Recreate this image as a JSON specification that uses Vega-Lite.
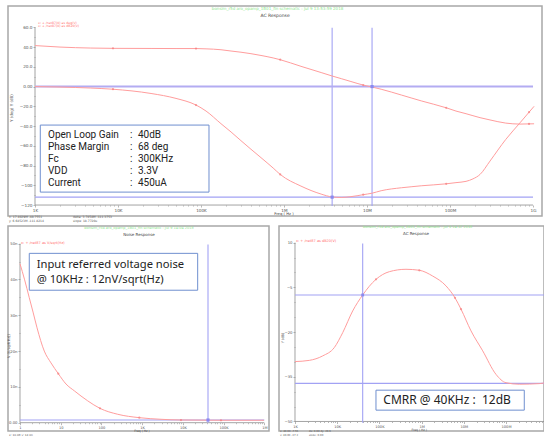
{
  "$schema": "https://vega.github.io/schema/vega-lite/v6.json",
  "background": "white",
  "padding": {"left": 6, "top": 5, "right": 0, "bottom": 0},
  "bounds": "flush",
  "spacing": 10,
  "config": {
    "view": {"stroke": "#a8a8a8", "strokeWidth": 1.5},
    "axis": {"domain": false, "grid": false, "labelFont": "DejaVu Sans", "labelFontSize": 4.2, "labelColor": "#555", "tickColor": "#999", "tickWidth": 0.7, "labelPadding": 1, "labelOverlap": false, "labelFlush": false, "labelBound": false}
  },
  "datasets": {
    "ac": [
      {"series":"gain","f":1000,"v":41.5},{"series":"gain","f":2000,"v":40.0},{"series":"gain","f":4700,"v":39.0},{"series":"gain","f":8700,"v":38.7},{"series":"gain","f":25000,"v":38.6},{"series":"gain","f":50000,"v":38.5},{"series":"gain","f":87000,"v":38.5},{"series":"gain","f":115000,"v":38.2},{"series":"gain","f":174000,"v":37.3},{"series":"gain","f":230000,"v":36.0},{"series":"gain","f":303000,"v":34.8},{"series":"gain","f":400000,"v":33.3},{"series":"gain","f":528000,"v":31.5},{"series":"gain","f":740000,"v":29.0},{"series":"gain","f":900000,"v":27.2},{"series":"gain","f":1600000,"v":20.5},{"series":"gain","f":2800000,"v":14.2},{"series":"gain","f":3800000,"v":10.7},{"series":"gain","f":4900000,"v":8.0},{"series":"gain","f":6400000,"v":5.1},{"series":"gain","f":9000000,"v":1.5},{"series":"gain","f":11500000,"v":-0.5},{"series":"gain","f":14800000,"v":-2.7},{"series":"gain","f":26000000,"v":-8.6},{"series":"gain","f":34000000,"v":-11.5},{"series":"gain","f":45000000,"v":-14.5},{"series":"gain","f":90000000,"v":-21.5},{"series":"gain","f":118000000,"v":-24.8},{"series":"gain","f":156000000,"v":-27.5},{"series":"gain","f":189000000,"v":-29.5},{"series":"gain","f":230000000,"v":-31.5},{"series":"gain","f":303000000,"v":-33.8},{"series":"gain","f":470000000,"v":-37.0},{"series":"gain","f":697000000,"v":-38.0},{"series":"gain","f":895000000,"v":-37.8},{"series":"gain","f":1030000000,"v":-37.7},
      {"series":"phase","f":1000,"v":0},{"series":"phase","f":2000,"v":-0.5},{"series":"phase","f":4700,"v":-1.5},{"series":"phase","f":8700,"v":-2.7},{"series":"phase","f":25000,"v":-7},{"series":"phase","f":50000,"v":-12},{"series":"phase","f":87000,"v":-18.7},{"series":"phase","f":115000,"v":-24.8},{"series":"phase","f":174000,"v":-37.6},{"series":"phase","f":230000,"v":-46},{"series":"phase","f":303000,"v":-54.8},{"series":"phase","f":400000,"v":-63.5},{"series":"phase","f":528000,"v":-72},{"series":"phase","f":740000,"v":-82.5},{"series":"phase","f":900000,"v":-89},{"series":"phase","f":1600000,"v":-100.8},{"series":"phase","f":2800000,"v":-108.9},{"series":"phase","f":3800000,"v":-111.8},{"series":"phase","f":4900000,"v":-112.3},{"series":"phase","f":6400000,"v":-111.5},{"series":"phase","f":9000000,"v":-109.5},{"series":"phase","f":11500000,"v":-108},{"series":"phase","f":14800000,"v":-105.5},{"series":"phase","f":26000000,"v":-102.5},{"series":"phase","f":34000000,"v":-101.5},{"series":"phase","f":45000000,"v":-100.5},{"series":"phase","f":90000000,"v":-98.5},{"series":"phase","f":118000000,"v":-97.3},{"series":"phase","f":156000000,"v":-96},{"series":"phase","f":189000000,"v":-93.5},{"series":"phase","f":230000000,"v":-89},{"series":"phase","f":303000000,"v":-75.5},{"series":"phase","f":470000000,"v":-53.5},{"series":"phase","f":697000000,"v":-36.7},{"series":"phase","f":895000000,"v":-26},{"series":"phase","f":1030000000,"v":-20}
    ],
    "ac_marks": [
      {"f":8700,"v":38.7},{"f":87000,"v":38.5},{"f":900000,"v":27.2},{"f":9000000,"v":1.5},{"f":90000000,"v":-21.5},{"f":895000000,"v":-37.8},
      {"f":8700,"v":-2.7},{"f":87000,"v":-18.7},{"f":900000,"v":-89},{"f":9000000,"v":-109.5},{"f":90000000,"v":-98.5},{"f":895000000,"v":-26}
    ],
    "ac_axis": [{"f":1000,"f2":1000000000,"v":-120,"v2":-120},{"f":1000,"f2":1000,"v":-120,"v2":60}],
    "ac_cursor": [{"f":3800000,"f2":3800000,"v":59.5,"v2":-121},{"f":11500000,"f2":11500000,"v":59.5,"v2":-121},{"f":1000,"f2":1000000000,"v":-112,"v2":-112}],
    "ac_zero": [{"f":1000,"f2":1000000000,"v":0,"v2":0}],
    "ac_sq": [{"f":11500000,"v":0},{"f":3800000,"v":-112}],
    "ac_box": [{"f":1158,"f2":124800,"v":-39,"v2":-106.9}],
    "ac_text": [
      {"f":1434,"v":-49.2,"label":"Open Loop Gain"},{"f":13950,"v":-49.2,"label":":"},{"f":17400,"v":-49.2,"label":"40dB"},
      {"f":1434,"v":-61,"label":"Phase Margin"},{"f":13950,"v":-61,"label":":"},{"f":17400,"v":-61,"label":"68 deg"},
      {"f":1434,"v":-73.1,"label":"Fc"},{"f":13950,"v":-73.1,"label":":"},{"f":17400,"v":-73.1,"label":"300KHz"},
      {"f":1434,"v":-85.6,"label":"VDD"},{"f":13950,"v":-85.6,"label":":"},{"f":17400,"v":-85.6,"label":"3.3V"},
      {"f":1434,"v":-97.5,"label":"Current"},{"f":13950,"v":-97.5,"label":":"},{"f":17400,"v":-97.5,"label":"450uA"}
    ],
    "ac_notes": [
      {"role":"header","f":836000,"v":78.1,"label":"bonsim_r5d aro_opamp_1B01_fin schematic : Jul 9 13:53:59 2018"},
      {"role":"title","f":780000,"v":71.4,"label":"AC Response"},
      {"role":"legend","f":1087,"v":64.9,"label":"x: + /net87(0) as deg(V)"},
      {"role":"legend","f":1087,"v":61.1,"label":"x: + /net87(0) as dB20(V)"},
      {"role":"xtitle","f":1000000,"v":-129.2,"label":"Freq ( Hz )"},
      {"role":"ytitle","f":529,"v":-21.8,"label":"Y (deg)  Y (dB)"},
      {"role":"status","f":486,"v":-132.0,"label":"x: 17.4029M  -48.7551"},
      {"role":"status","f":486,"v":-135.6,"label":"y: 6.64523M  -111.8214"},
      {"role":"status","f":2870,"v":-132.0,"label":"delta: 3.7458M  -111.3753"},
      {"role":"status","f":2870,"v":-135.6,"label":"slope: 18.7720u"}
    ],
    "noise": [
      {"f":1,"v":44.4},{"f":1.3,"v":39.9},{"f":1.69,"v":34.9},{"f":2.09,"v":30.9},{"f":2.62,"v":26.5},{"f":3.95,"v":20.0},{"f":5.77,"v":16.7},{"f":8.72,"v":13.7},{"f":13.5,"v":10.8},{"f":21.6,"v":8.9},{"f":46,"v":6.1},{"f":92.2,"v":4.0},{"f":251,"v":2.35},{"f":851,"v":1.4},{"f":2902,"v":0.95},{"f":8990,"v":0.75},{"f":86300,"v":0.68},{"f":982000,"v":0.68}
    ],
    "noise_marks": [{"f":8.72,"v":13.7},{"f":92.2,"v":4.0},{"f":851,"v":1.4},{"f":8990,"v":0.75},{"f":86300,"v":0.68}],
    "noise_axis": [{"f":1,"f2":1000000,"v":0,"v2":0},{"f":1,"f2":1,"v":0,"v2":50}],
    "noise_cursor": [{"f":41400,"f2":41400,"v":49.8,"v2":0},{"f":1,"f2":1000000,"v":0.75,"v2":0.75}],
    "noise_sq": [{"f":41400,"v":0.75}],
    "noise_box": [{"f":1.69,"f2":23100,"v":47.3,"v2":37.0}],
    "noise_text": [{"f":2.57,"v":44.0,"label":"Input referred voltage noise"},{"f":2.57,"v":39.8,"label":"@ 10KHz : 12nV/sqrt(Hz)"}],
    "noise_notes": [
      {"role":"header","f":836,"v":54.3,"label":"bonsim_r5d aro_opamp_1B01_fin schematic : Jul 9 14:04 2018"},
      {"role":"title","f":836,"v":52.4,"label":"Noise Response"},
      {"role":"legend","f":1.06,"v":50.2,"label":"x: + /net87 as V/sqrt(Hz)"},
      {"role":"xtitle","f":991,"v":-2.3,"label":"Freq ( Hz )"},
      {"role":"ytitle","f":0.537,"v":21.4,"label":"V (V/sqrt(Hz))"},
      {"role":"status","f":0.537,"v":-3.35,"label":"x: 10.0K  y: 12.0n"}
    ],
    "cmrr": [
      {"f":1000,"v":-29.9},{"f":2180,"v":-29.5},{"f":4530,"v":-28.0},{"f":8540,"v":-25.2},{"f":13500,"v":-20.2},{"f":23300,"v":-12.9},{"f":40200,"v":-7.55},{"f":83000,"v":-2.3},{"f":172000,"v":0.27},{"f":427000,"v":1.07},{"f":882000,"v":0.74},{"f":1832000,"v":-1.2},{"f":3787000,"v":-4.5},{"f":6184000,"v":-8.5},{"f":8583000,"v":-12.3},{"f":14820000,"v":-19.6},{"f":28060000,"v":-26.3},{"f":57970000,"v":-34.2},{"f":100000000,"v":-37.0},{"f":207000000,"v":-37.5},{"f":615000000,"v":-37.3},{"f":795000000,"v":-37.1}
    ],
    "cmrr_marks": [{"f":40200,"v":-7.55},{"f":83000,"v":-2.3},{"f":882000,"v":0.74},{"f":6184000,"v":-8.5},{"f":8583000,"v":-12.3}],
    "cmrr_axis": [{"f":1000,"f2":795000000,"v":-50,"v2":-50},{"f":1000,"f2":1000,"v":-50,"v2":10}],
    "cmrr_cursor": [{"f":40200,"f2":40200,"v":9.7,"v2":-50.4},{"f":1000,"f2":795000000,"v":-7.55,"v2":-7.55},{"f":1000,"f2":795000000,"v":-37.2,"v2":-37.2}],
    "cmrr_sq": [{"f":40200,"v":-7.55}],
    "cmrr_box": [{"f":83000,"f2":271000000,"v":-39.5,"v2":-46.2}],
    "cmrr_text": [{"f":123700,"v":-42.8,"label":"CMRR @ 40KHz :\u00a0\u00a012dB"}],
    "cmrr_notes": [
      {"role":"header","f":808000,"v":15.3,"label":"bonsim_r5d aro_opamp_1B01_fin schematic : Jul 9 14:12 2018"},
      {"role":"title","f":737000,"v":13.0,"label":"AC Response"},
      {"role":"legend","f":1056,"v":10.6,"label":"x: + /net87 as dB20(V)"},
      {"role":"xtitle","f":882000,"v":-52.8,"label":"Freq ( Hz )"},
      {"role":"ytitle","f":521,"v":-22,"label":"Y (dB)"},
      {"role":"status","f":441,"v":-53.4,"label":"x: 40.0K  -7.55"},
      {"role":"status","f":441,"v":-54.6,"label":"y: 40.0K  -37.2"},
      {"role":"status","f":2146,"v":-53.4,"label":"dx: 0.00  dy: 29.6"},
      {"role":"status","f":2146,"v":-54.6,"label":"slope: 0.00"}
    ]
  },
  "vconcat": [
    {
      "width": 534,
      "height": 210,
      "encoding": {
        "x": {"field": "f", "type": "quantitative", "scale": {"type": "log", "domain": [472.8, 1283000000], "nice": false},
          "axis": {"title": null, "orient": "bottom", "offset": -11,
            "values": [1000,2000,3000,4000,5000,6000,7000,8000,9000,10000,20000,30000,40000,50000,60000,70000,80000,90000,100000,200000,300000,400000,500000,600000,700000,800000,900000,1000000,2000000,3000000,4000000,5000000,6000000,7000000,8000000,9000000,10000000,20000000,30000000,40000000,50000000,60000000,70000000,80000000,90000000,100000000,200000000,300000000,400000000,500000000,600000000,700000000,800000000,900000000,1000000000],
            "labelExpr": "datum.value==1e3?'1K':datum.value==1e4?'10K':datum.value==1e5?'100K':datum.value==1e6?'1M':datum.value==1e7?'10M':datum.value==1e8?'100M':datum.value==1e9?'1G':''",
            "tickSize": {"condition": {"test": "indexof([1e3,1e4,1e5,1e6,1e7,1e8,1e9], datum.value) >= 0", "value": 2}, "value": 1}}},
        "y": {"field": "v", "type": "quantitative", "scale": {"domain": [-131.1, 81.6], "nice": false, "zero": false},
          "axis": {"title": null, "orient": "left", "offset": -27,
            "values": [-120,-110,-100,-90,-80,-70,-60,-50,-40,-30,-20,-10,0,10,20,30,40,50,60],
            "labelExpr": "datum.value%20!=0?'':datum.value==0?'0.00':abs(datum.value)>=100?format(datum.value,'d'):format(datum.value,'.1f')",
            "tickSize": {"condition": {"test": "datum.value%20==0", "value": 2}, "value": 1}}}
      },
      "layer": [
        {"data": {"name": "ac_axis"}, "mark": {"type": "rule", "color": "#8c8c8c", "strokeWidth": 0.8}, "encoding": {"x2": {"field": "f2"}, "y2": {"field": "v2"}}},
        {"data": {"name": "ac_cursor"}, "mark": {"type": "rule", "color": "#a2a2f4", "strokeWidth": 1.1}, "encoding": {"x2": {"field": "f2"}, "y2": {"field": "v2"}}},
        {"data": {"name": "ac_zero"}, "mark": {"type": "rule", "color": "#b3acf2", "strokeWidth": 2}, "encoding": {"x2": {"field": "f2"}, "y2": {"field": "v2"}}},
        {"data": {"name": "ac"}, "mark": {"type": "line", "color": "#ff9d9d", "strokeWidth": 1, "interpolate": "monotone"}, "encoding": {"detail": {"field": "series"}}},
        {"data": {"name": "ac_marks"}, "mark": {"type": "point", "filled": true, "size": 5, "color": "#f47a7a"}, "encoding": {}},
        {"data": {"name": "ac_sq"}, "mark": {"type": "square", "size": 10, "color": "#8a8af0", "opacity": 1}, "encoding": {}},
        {"data": {"name": "ac_box"}, "mark": {"type": "rect", "fill": "white", "stroke": "#6f8fcf", "strokeWidth": 1}, "encoding": {"x2": {"field": "f2"}, "y2": {"field": "v2"}}},
        {"data": {"name": "ac_text"}, "mark": {"type": "text", "align": "left", "baseline": "middle", "fontSize": 10, "font": "Roboto", "color": "#222"}, "encoding": {"text": {"field": "label"}}},
        {"data": {"name": "ac_notes"}, "transform": [{"filter": "datum.role=='header'"}], "mark": {"type": "text", "align": "center", "baseline": "middle", "fontSize": 4, "font": "DejaVu Sans", "color": "#8ee68e"}, "encoding": {"text": {"field": "label"}}},
        {"data": {"name": "ac_notes"}, "transform": [{"filter": "datum.role=='title'"}], "mark": {"type": "text", "align": "center", "baseline": "middle", "fontSize": 4.5, "font": "DejaVu Sans", "color": "#444"}, "encoding": {"text": {"field": "label"}}},
        {"data": {"name": "ac_notes"}, "transform": [{"filter": "datum.role=='xtitle'"}], "mark": {"type": "text", "align": "center", "baseline": "middle", "fontSize": 3.8, "font": "DejaVu Sans", "color": "#444"}, "encoding": {"text": {"field": "label"}}},
        {"data": {"name": "ac_notes"}, "transform": [{"filter": "datum.role=='legend'"}], "mark": {"type": "text", "align": "left", "baseline": "middle", "fontSize": 3.2, "font": "DejaVu Sans", "color": "#ff6f6f"}, "encoding": {"text": {"field": "label"}}},
        {"data": {"name": "ac_notes"}, "transform": [{"filter": "datum.role=='status'"}], "mark": {"type": "text", "align": "left", "baseline": "middle", "fontSize": 3, "font": "DejaVu Sans", "color": "#555"}, "encoding": {"text": {"field": "label"}}},
        {"data": {"name": "ac_notes"}, "transform": [{"filter": "datum.role=='ytitle'"}], "mark": {"type": "text", "align": "center", "baseline": "middle", "angle": 270, "fontSize": 4, "font": "DejaVu Sans", "color": "#555"}, "encoding": {"text": {"field": "label"}}}
      ]
    },
    {
      "hconcat": [
        {
          "width": 261,
          "height": 205,
          "encoding": {
            "x": {"field": "f", "type": "quantitative", "scale": {"type": "log", "domain": [0.5074, 1303000], "nice": false},
              "axis": {"title": null, "orient": "bottom", "offset": -8.3,
                "values": [1,2,3,4,5,6,7,8,9,10,20,30,40,50,60,70,80,90,100,200,300,400,500,600,700,800,900,1000,2000,3000,4000,5000,6000,7000,8000,9000,10000,20000,30000,40000,50000,60000,70000,80000,90000,100000,200000,300000,400000,500000,600000,700000,800000,900000,1000000],
                "labelExpr": "datum.value==1?'1':datum.value==10?'10':datum.value==100?'100':datum.value==1e3?'1K':datum.value==1e4?'10K':datum.value==1e5?'100K':datum.value==1e6?'1M':''",
                "labelFontSize": 3.6,
                "tickSize": {"condition": {"test": "indexof([1,10,100,1e3,1e4,1e5,1e6], datum.value) >= 0", "value": 2}, "value": 1}}},
            "y": {"field": "v", "type": "quantitative", "scale": {"domain": [-2.32, 54.94], "nice": false, "zero": false},
              "axis": {"title": null, "orient": "left", "offset": -12,
                "values": [0,5,10,15,20,25,30,35,40,45,50],
                "labelExpr": "datum.value%10!=0?'':datum.value==0?'0.00':datum.value+'n'",
                "labelFontSize": 3.8,
                "tickSize": {"condition": {"test": "datum.value%10==0", "value": 2}, "value": 1}}}
          },
          "layer": [
            {"data": {"name": "noise_axis"}, "mark": {"type": "rule", "color": "#8c8c8c", "strokeWidth": 0.8}, "encoding": {"x2": {"field": "f2"}, "y2": {"field": "v2"}}},
            {"data": {"name": "noise_cursor"}, "mark": {"type": "rule", "color": "#a2a2f4", "strokeWidth": 1.1}, "encoding": {"x2": {"field": "f2"}, "y2": {"field": "v2"}}},
            {"data": {"name": "noise"}, "mark": {"type": "line", "color": "#ff9d9d", "strokeWidth": 1, "interpolate": "monotone"}, "encoding": {}},
            {"data": {"name": "noise_marks"}, "mark": {"type": "point", "filled": true, "size": 5, "color": "#f47a7a"}, "encoding": {}},
            {"data": {"name": "noise_sq"}, "mark": {"type": "square", "size": 10, "color": "#8a8af0", "opacity": 1}, "encoding": {}},
            {"data": {"name": "noise_box"}, "mark": {"type": "rect", "fill": "white", "stroke": "#6f8fcf", "strokeWidth": 1}, "encoding": {"x2": {"field": "f2"}, "y2": {"field": "v2"}}},
            {"data": {"name": "noise_text"}, "mark": {"type": "text", "align": "left", "baseline": "middle", "fontSize": 11.2, "font": "Noto Sans", "color": "#222"}, "encoding": {"text": {"field": "label"}}},
            {"data": {"name": "noise_notes"}, "transform": [{"filter": "datum.role=='header'"}], "mark": {"type": "text", "align": "center", "baseline": "middle", "fontSize": 3.5, "font": "DejaVu Sans", "color": "#8ee68e"}, "encoding": {"text": {"field": "label"}}},
            {"data": {"name": "noise_notes"}, "transform": [{"filter": "datum.role=='title'"}], "mark": {"type": "text", "align": "center", "baseline": "middle", "fontSize": 4, "font": "DejaVu Sans", "color": "#444"}, "encoding": {"text": {"field": "label"}}},
            {"data": {"name": "noise_notes"}, "transform": [{"filter": "datum.role=='xtitle'"}], "mark": {"type": "text", "align": "center", "baseline": "middle", "fontSize": 3, "font": "DejaVu Sans", "color": "#444"}, "encoding": {"text": {"field": "label"}}},
            {"data": {"name": "noise_notes"}, "transform": [{"filter": "datum.role=='legend'"}], "mark": {"type": "text", "align": "left", "baseline": "middle", "fontSize": 3.5, "font": "DejaVu Sans", "color": "#ff6f6f"}, "encoding": {"text": {"field": "label"}}},
            {"data": {"name": "noise_notes"}, "transform": [{"filter": "datum.role=='status'"}], "mark": {"type": "text", "align": "left", "baseline": "middle", "fontSize": 2.8, "font": "DejaVu Sans", "color": "#555"}, "encoding": {"text": {"field": "label"}}},
            {"data": {"name": "noise_notes"}, "transform": [{"filter": "datum.role=='ytitle'"}], "mark": {"type": "text", "align": "center", "baseline": "middle", "angle": 270, "fontSize": 3.5, "font": "DejaVu Sans", "color": "#555"}, "encoding": {"text": {"field": "label"}}}
          ]
        },
        {
          "width": 265,
          "height": 205,
          "encoding": {
            "x": {"field": "f", "type": "quantitative", "scale": {"type": "log", "domain": [418, 795000000], "nice": false},
              "axis": {"title": null, "orient": "bottom", "offset": -9.5,
                "values": [1000,2000,3000,4000,5000,6000,7000,8000,9000,10000,20000,30000,40000,50000,60000,70000,80000,90000,100000,200000,300000,400000,500000,600000,700000,800000,900000,1000000,2000000,3000000,4000000,5000000,6000000,7000000,8000000,9000000,10000000,20000000,30000000,40000000,50000000,60000000,70000000,80000000,90000000,100000000,200000000,300000000,400000000,500000000,600000000,700000000],
                "labelExpr": "datum.value==1e3?'1K':datum.value==1e4?'10K':datum.value==1e5?'100K':datum.value==1e6?'1M':datum.value==1e7?'10M':datum.value==1e8?'100M':''",
                "labelFontSize": 3.6,
                "tickSize": {"condition": {"test": "indexof([1e3,1e4,1e5,1e6,1e7,1e8], datum.value) >= 0", "value": 2}, "value": 1}}},
            "y": {"field": "v", "type": "quantitative", "scale": {"domain": [-53.2, 15.6], "nice": false, "zero": false},
              "axis": {"title": null, "orient": "left", "offset": -16,
                "values": [-50,-45,-40,-35,-30,-25,-20,-15,-10,-5,0,5,10],
                "labelExpr": "(datum.value+50)%15!=0?'':format(datum.value,'d')",
                "labelFontSize": 3.8,
                "tickSize": {"condition": {"test": "(datum.value+50)%15==0", "value": 2}, "value": 1}}}
          },
          "layer": [
            {"data": {"name": "cmrr_axis"}, "mark": {"type": "rule", "color": "#8c8c8c", "strokeWidth": 0.8}, "encoding": {"x2": {"field": "f2"}, "y2": {"field": "v2"}}},
            {"data": {"name": "cmrr_cursor"}, "mark": {"type": "rule", "color": "#a2a2f4", "strokeWidth": 1.1}, "encoding": {"x2": {"field": "f2"}, "y2": {"field": "v2"}}},
            {"data": {"name": "cmrr"}, "mark": {"type": "line", "color": "#ff9d9d", "strokeWidth": 1, "interpolate": "monotone"}, "encoding": {}},
            {"data": {"name": "cmrr_marks"}, "mark": {"type": "point", "filled": true, "size": 5, "color": "#f47a7a"}, "encoding": {}},
            {"data": {"name": "cmrr_sq"}, "mark": {"type": "square", "size": 8, "color": "#8a8af0", "opacity": 1}, "encoding": {}},
            {"data": {"name": "cmrr_box"}, "mark": {"type": "rect", "fill": "white", "stroke": "#6f8fcf", "strokeWidth": 1}, "encoding": {"x2": {"field": "f2"}, "y2": {"field": "v2"}}},
            {"data": {"name": "cmrr_text"}, "mark": {"type": "text", "align": "left", "baseline": "middle", "fontSize": 12, "font": "Noto Sans", "color": "#222"}, "encoding": {"text": {"field": "label"}}},
            {"data": {"name": "cmrr_notes"}, "transform": [{"filter": "datum.role=='header'"}], "mark": {"type": "text", "align": "center", "baseline": "middle", "fontSize": 3.5, "font": "DejaVu Sans", "color": "#8ee68e"}, "encoding": {"text": {"field": "label"}}},
            {"data": {"name": "cmrr_notes"}, "transform": [{"filter": "datum.role=='title'"}], "mark": {"type": "text", "align": "center", "baseline": "middle", "fontSize": 4, "font": "DejaVu Sans", "color": "#444"}, "encoding": {"text": {"field": "label"}}},
            {"data": {"name": "cmrr_notes"}, "transform": [{"filter": "datum.role=='xtitle'"}], "mark": {"type": "text", "align": "center", "baseline": "middle", "fontSize": 3, "font": "DejaVu Sans", "color": "#444"}, "encoding": {"text": {"field": "label"}}},
            {"data": {"name": "cmrr_notes"}, "transform": [{"filter": "datum.role=='legend'"}], "mark": {"type": "text", "align": "left", "baseline": "middle", "fontSize": 3.5, "font": "DejaVu Sans", "color": "#ff6f6f"}, "encoding": {"text": {"field": "label"}}},
            {"data": {"name": "cmrr_notes"}, "transform": [{"filter": "datum.role=='status'"}], "mark": {"type": "text", "align": "left", "baseline": "middle", "fontSize": 2.6, "font": "DejaVu Sans", "color": "#555"}, "encoding": {"text": {"field": "label"}}},
            {"data": {"name": "cmrr_notes"}, "transform": [{"filter": "datum.role=='ytitle'"}], "mark": {"type": "text", "align": "center", "baseline": "middle", "angle": 270, "fontSize": 3.5, "font": "DejaVu Sans", "color": "#555"}, "encoding": {"text": {"field": "label"}}}
          ]
        }
      ],
      "spacing": 10,
      "bounds": "flush"
    }
  ]
}
